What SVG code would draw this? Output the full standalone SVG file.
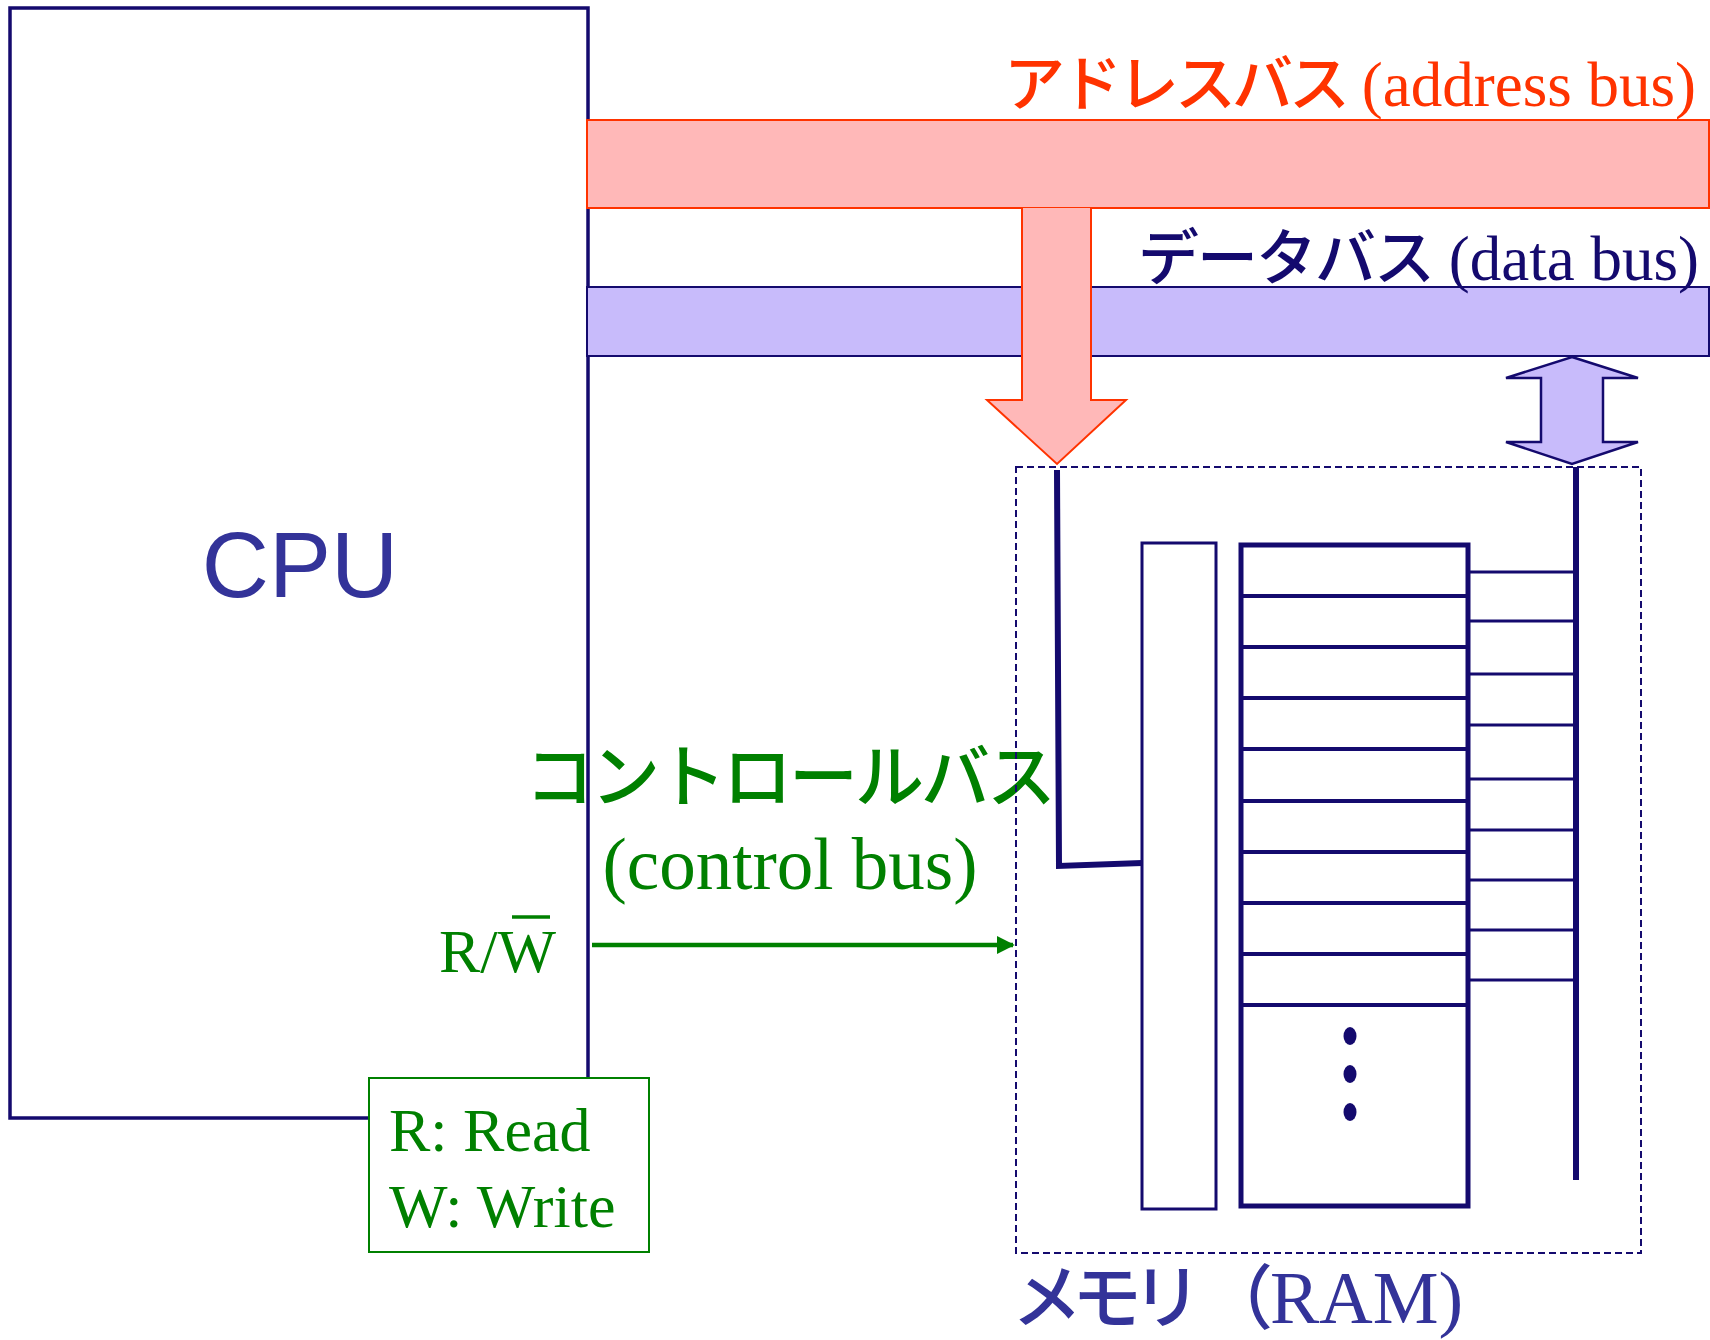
<svg xmlns="http://www.w3.org/2000/svg" width="1710" height="1340" viewBox="0 0 1710 1340">
<style>
.navy{stroke:#140a6e;fill:none}
.jp{font-family:"Noto Sans CJK JP","Noto Sans",sans-serif;font-weight:500}
.lat{font-family:"Liberation Serif","Times New Roman",serif}
.green{fill:#008000}
</style>
<defs>
<marker id="ah" viewBox="0 0 10 10" refX="9" refY="5" markerWidth="18" markerHeight="18" orient="auto" markerUnits="userSpaceOnUse">
<path d="M0,0 L10,5 L0,10 z" fill="#008000"/>
</marker>
</defs>
<rect width="1710" height="1340" fill="#fff"/>

<g id="cpu">
<rect x="10" y="8" width="578" height="1110" fill="#fff" stroke="#140a6e" stroke-width="3.5"/>
<text x="300" y="597" text-anchor="middle" font-family="'Liberation Sans',Arial,sans-serif" font-size="93" fill="#333399">CPU</text>
</g>

<g id="address-bus">
<rect x="587" y="120" width="1122" height="88" fill="#ffb8b8" stroke="#ff3300" stroke-width="2"/>
<text x="1696" y="106" text-anchor="end" fill="#ff3300"><tspan class="jp" font-size="61" letter-spacing="-4">アドレスバス</tspan><tspan class="lat" font-size="63"> (address bus)</tspan></text>
</g>

<g id="data-bus">
<rect x="587" y="287" width="1122" height="69" fill="#c8bbfb" stroke="#140a6e" stroke-width="2"/>
<text x="1699" y="280" text-anchor="end" fill="#140a6e"><tspan class="jp" font-size="61" letter-spacing="-2">データバス</tspan><tspan class="lat" font-size="63"> (data bus)</tspan></text>
</g>

<g id="control-bus-label">
<text x="789" y="802" text-anchor="middle" class="jp green" font-size="69" letter-spacing="-3">コントロールバス</text>
<text x="790" y="889" text-anchor="middle" class="lat green" font-size="73">(control bus)</text>
</g>

<g id="rw-label">
<text x="439" y="972" class="lat green" font-size="62">R/W</text>
<line x1="512" y1="917" x2="550" y2="917" stroke="#008000" stroke-width="3.5"/>
</g>

<g id="legend">
<rect x="369" y="1078" width="280" height="174" fill="#fff" stroke="#008000" stroke-width="2"/>
<text x="389" y="1151" class="lat green" font-size="62">R: Read</text>
<text x="389" y="1227" class="lat green" font-size="62">W: Write</text>
</g>

<g id="memory">
<rect x="1016" y="467" width="625" height="786" fill="none" stroke="#140a6e" stroke-width="2" stroke-dasharray="7 4"/>
<rect x="1142" y="543" width="74" height="666" class="navy" stroke-width="3"/>
<rect x="1241" y="545" width="227" height="661" class="navy" stroke-width="5"/>
<g class="navy" stroke-width="4">
<line x1="1241" y1="596" x2="1468" y2="596"/>
<line x1="1241" y1="647" x2="1468" y2="647"/>
<line x1="1241" y1="698" x2="1468" y2="698"/>
<line x1="1241" y1="749" x2="1468" y2="749"/>
<line x1="1241" y1="801" x2="1468" y2="801"/>
<line x1="1241" y1="852" x2="1468" y2="852"/>
<line x1="1241" y1="903" x2="1468" y2="903"/>
<line x1="1241" y1="954" x2="1468" y2="954"/>
<line x1="1241" y1="1005" x2="1468" y2="1005"/>
</g>
<g class="navy" stroke-width="3">
<line x1="1468" y1="572" x2="1576" y2="572"/>
<line x1="1468" y1="621" x2="1576" y2="621"/>
<line x1="1468" y1="674" x2="1576" y2="674"/>
<line x1="1468" y1="725" x2="1576" y2="725"/>
<line x1="1468" y1="779" x2="1576" y2="779"/>
<line x1="1468" y1="830" x2="1576" y2="830"/>
<line x1="1468" y1="880" x2="1576" y2="880"/>
<line x1="1468" y1="930" x2="1576" y2="930"/>
<line x1="1468" y1="980" x2="1576" y2="980"/>
</g>
<g fill="#140a6e">
<ellipse cx="1350" cy="1036" rx="6.5" ry="9"/>
<ellipse cx="1350" cy="1074" rx="6.5" ry="9"/>
<ellipse cx="1350" cy="1112" rx="6.5" ry="9"/>
</g>
<line x1="1576" y1="467" x2="1576" y2="1180" class="navy" stroke-width="6"/>
<text y="1323" fill="#333399"><tspan x="1012" class="jp" font-size="70" letter-spacing="-10">メモリ</tspan><tspan x="1203" class="jp" font-size="70">（</tspan><tspan x="1270" class="lat" font-size="74">RAM)</tspan></text>
</g>

<g id="connectors">
<path d="M1022,208 L1022,400 L987,400 L1057,464 L1126,400 L1091,400 L1091,208" fill="#ffb8b8" stroke="#ff3300" stroke-width="2"/>
<path d="M1572,357 L1638,378 L1603,378 L1603,442 L1638,442 L1572,464 L1506,442 L1541,442 L1541,378 L1506,378 z" fill="#c8bbfb" stroke="#140a6e" stroke-width="2.5"/>
<polyline points="1057,470 1059,866 1142,863" fill="none" stroke="#140a6e" stroke-width="6"/>
<line x1="592" y1="945" x2="1013" y2="945" stroke="#008000" stroke-width="4.5" marker-end="url(#ah)"/>
</g>
</svg>
